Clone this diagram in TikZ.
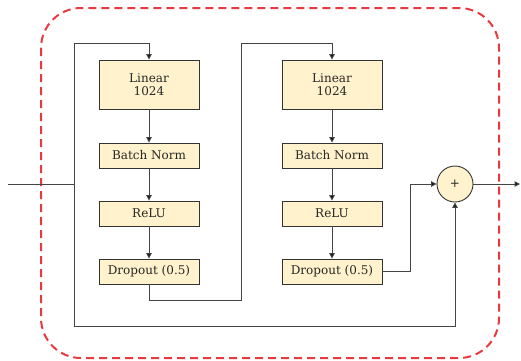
\documentclass[tikz,border=0pt]{standalone}
\usepackage{fontspec}
\setmainfont{DejaVu Serif}
\usetikzlibrary{arrows.meta}
\definecolor{boxfill}{HTML}{FFF2CC}
\definecolor{boxline}{HTML}{333333}
\definecolor{wire}{HTML}{444444}
\definecolor{dashred}{HTML}{E8393F}
\tikzset{
  layer/.style={draw=boxline, fill=boxfill, line width=0.9pt, minimum width=100pt,
    inner sep=0pt, align=center, text=black!85, font=\fontsize{12}{12.5}\selectfont},
  addop/.style={circle, draw=boxline, fill=boxfill, line width=0.9pt, minimum size=36pt,
    inner sep=0pt, text=black!85, font=\fontsize{12}{14}\selectfont},
  wireline/.style={draw=wire, line width=1pt},
  arr/.style={wireline, -{Triangle[length=5.5pt,width=5.5pt,fill=black]}},
  block/.style={draw=dashred, line width=2pt, dash pattern=on 8pt off 5pt, rounded corners=40pt}
}
\begin{document}
\begin{tikzpicture}[x=1pt,y=-1pt]
\useasboundingbox (0,0) rectangle (521,360);
\draw[block] (41,8) rectangle (499,358);
% first branch
\node[layer, minimum height=49pt] (lin1) at (149,84.5) {Linear\\1024};
\node[layer, minimum height=25pt] (bn1) at (149,155.5) {Batch Norm};
\node[layer, minimum height=25pt] (relu1) at (149,213.5) {ReLU};
\node[layer, minimum height=25pt] (drop1) at (149,271.5) {Dropout (0.5)};
% second branch
\node[layer, minimum height=49pt] (lin2) at (332,84.5) {Linear\\1024};
\node[layer, minimum height=25pt] (bn2) at (332,155.5) {Batch Norm};
\node[layer, minimum height=25pt] (relu2) at (332,213.5) {ReLU};
\node[layer, minimum height=25pt] (drop2) at (332,271.5) {Dropout (0.5)};
% add
\node[addop] (add) at (455,184) {+};
\coordinate (in) at (8,184);
\coordinate (split) at (74,184);
\coordinate (out) at (520,184);
% wires
\draw[wireline] (in) -- (split);
\draw[arr] (split) |- (74,43) -| (lin1.north);
\draw[arr] (lin1) -- (bn1);
\draw[arr] (bn1) -- (relu1);
\draw[arr] (relu1) -- (drop1);
\draw[arr] (drop1.south) |- (241,300) |- (332,43) -- (lin2.north);
\draw[arr] (lin2) -- (bn2);
\draw[arr] (bn2) -- (relu2);
\draw[arr] (relu2) -- (drop2);
\draw[arr] (drop2.east) -| (410,184) -- (add.west);
\draw[arr] (split) |- (455,326) -- (add.south);
\draw[arr] (add.east) -- (out);
\end{tikzpicture}
\end{document}
